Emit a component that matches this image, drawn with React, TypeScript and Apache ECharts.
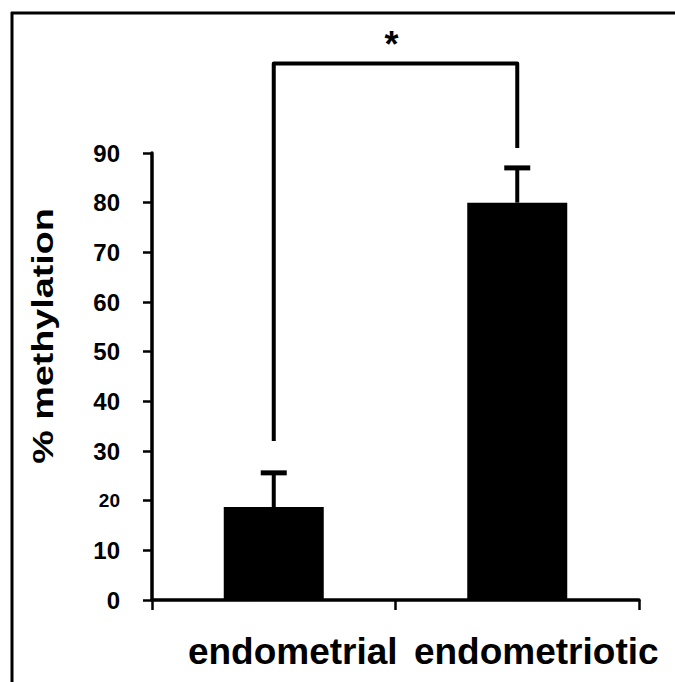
import React, { useEffect, useRef } from "react";
import * as echarts from "echarts";

const categories = ["endometrial", "endometriotic"];
const meanMethylation = [18.7, 80.0];
const errorTop = [25.6, 87.0];
const bracketLegBottom = [32, 91];
const bracketTop = 108;
const significanceMark = "*";
const yAxisTitle = "% methylation";
const yMin = 0;
const yMax = 90;
const yStep = 10;

export default function App() {
  const ref = useRef<HTMLDivElement>(null);

  useEffect(() => {
    if (!ref.current) return;
    const chart = echarts.init(ref.current, null, { renderer: "svg" });
    const font = "Arial, 'Liberation Sans', Helvetica, sans-serif";

    const errorData = categories.map((_, i) => [i, meanMethylation[i], errorTop[i]]);
    const bracketData = [[0, bracketLegBottom[0], 1, bracketLegBottom[1], bracketTop]];

    chart.setOption({
      animation: false,
      backgroundColor: "#ffffff",
      grid: { left: 152, right: 36, top: 153, bottom: 82, containLabel: false },
      xAxis: {
        type: "category",
        data: categories,
        boundaryGap: true,
        axisLine: { show: true, lineStyle: { color: "#000", width: 3.5 } },
        axisTick: { show: true, length: 10, lineStyle: { color: "#000", width: 2.5 } },
        axisLabel: {
          interval: 0,
          hideOverlap: false,
          color: "#000",
          fontFamily: font,
          fontWeight: "bold",
          fontSize: 37,
          margin: 33,
          padding: [0, 0, 0, 38],
        },
        splitLine: { show: false },
      },
      yAxis: {
        type: "value",
        min: yMin,
        max: yMax,
        interval: yStep,
        axisLine: { show: true, lineStyle: { color: "#000", width: 3.5 } },
        axisTick: { show: true, length: 9, lineStyle: { color: "#000", width: 2.5 } },
        axisLabel: {
          color: "#000",
          fontFamily: font,
          fontWeight: "bold",
          fontSize: 24,
          margin: 32,
          formatter: (v: number) => (v === 20 ? "{s|20}" : String(v)),
          rich: {
            s: { fontFamily: font, fontWeight: "bold", fontSize: 19, color: "#000" },
          },
        },
        splitLine: { show: false },
      },
      graphic: [
        {
          type: "line",
          shape: { x1: 11, y1: 13, x2: 675, y2: 13 },
          style: { stroke: "#000", lineWidth: 3 },
        },
        {
          type: "line",
          shape: { x1: 12, y1: 12, x2: 12, y2: 682 },
          style: { stroke: "#000", lineWidth: 3 },
        },
        {
          type: "text",
          x: 43,
          y: 336,
          rotation: Math.PI / 2,
          scaleX: 1.3,
          style: {
            text: yAxisTitle,
            font: `bold 29px ${font}`,
            fill: "#000",
            align: "center",
            verticalAlign: "middle",
          },
        },
      ],
      series: [
        {
          type: "bar",
          data: meanMethylation,
          barWidth: 100,
          itemStyle: { color: "#000" },
          z: 2,
        },
        {
          type: "custom",
          data: errorData,
          encode: { x: 0, y: [1, 2] },
          clip: false,
          z: 3,
          renderItem: (params: any, api: any) => {
            const i = api.value(0);
            const base = api.coord([i, api.value(1)]);
            const top = api.coord([i, api.value(2)]);
            const half = 13;
            return {
              type: "group",
              children: [
                {
                  type: "line",
                  shape: { x1: base[0], y1: base[1], x2: top[0], y2: top[1] },
                  style: { stroke: "#000", lineWidth: 4 },
                },
                {
                  type: "line",
                  shape: { x1: top[0] - half, y1: top[1], x2: top[0] + half, y2: top[1] },
                  style: { stroke: "#000", lineWidth: 5 },
                },
              ],
            };
          },
        },
        {
          type: "custom",
          data: bracketData,
          encode: { x: [0, 2], y: [1, 3, 4] },
          clip: false,
          z: 3,
          renderItem: (params: any, api: any) => {
            const a = api.coord([api.value(0), api.value(1)]);
            const aTop = api.coord([api.value(0), api.value(4)]);
            const b = api.coord([api.value(2), api.value(3)]);
            const bTop = api.coord([api.value(2), api.value(4)]);
            return {
              type: "group",
              children: [
                {
                  type: "polyline",
                  shape: { points: [a, aTop, bTop, b] },
                  style: { stroke: "#000", lineWidth: 4, fill: "none", lineJoin: "round" },
                },
                {
                  type: "text",
                  style: {
                    text: significanceMark,
                    x: (aTop[0] + bTop[0]) / 2 - 4,
                    y: aTop[1] - 19,
                    font: `bold 36px ${font}`,
                    fill: "#000",
                    align: "center",
                    verticalAlign: "middle",
                  },
                },
              ],
            };
          },
        },
      ],
    });

    return () => chart.dispose();
  }, []);

  return (
    <div
      ref={ref}
      style={{ position: "fixed", left: 0, top: 0, width: 675, height: 682, background: "#fff" }}
    />
  );
}
